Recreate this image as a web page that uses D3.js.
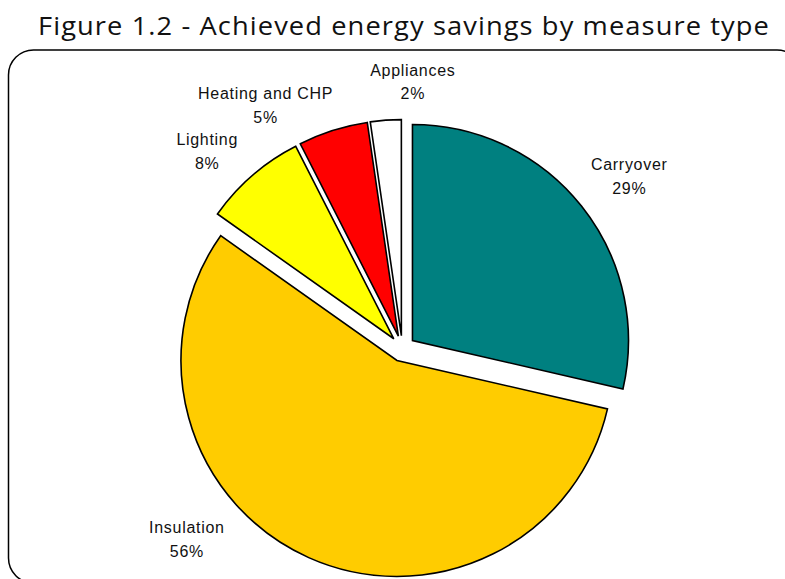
<!DOCTYPE html>
<html>
<head>
<meta charset="utf-8">
<script src="https://cdn.jsdelivr.net/npm/d3@7"></script>
<style>
  html, body { margin: 0; padding: 0; background: #fff; }
  svg { display: block; }
</style>
</head>
<body>
<div id="container"></div>
<script>
// data (shares in %)
const categories = ["Carryover", "Insulation", "Lighting", "Heating and CHP", "Appliances"];
const shares = [28.6, 56.2, 7.7, 5.2, 2.3];
const sliceColors = ["#008080", "#FFCC00", "#FFFF00", "#FF0000", "#FFFFFF"];

const width = 785;
const height = 579;
const cx = 402.3, cy = 348.6;
const radius = 216;
const explode = 13;

// where Excel pushed each label: shift of angle (deg) and label radius
const labelPlace = {
  "Carryover": { da: 1.3, r: 285 },
  "Insulation": { da: 24.3, r: 288 },
  "Lighting": { da: -3.8, r: 277.5 },
  "Heating and CHP": { da: -11.7, r: 279 },
  "Appliances": { da: 6.4, r: 267 }
};

const data = categories.map((c, i) => ({ name: c, value: shares[i], color: sliceColors[i] }));

const svg = d3.select("#container")
  .append("svg")
  .attr("width", width)
  .attr("height", height);

svg.append("text")
  .attr("x", 404)
  .attr("y", 35)
  .attr("text-anchor", "middle")
  .attr("textLength", 732)
  .attr("lengthAdjust", "spacingAndGlyphs")
  .style("font-family", "'Open Sans', sans-serif")
  .style("font-size", "25px")
  .style("letter-spacing", "1px")
  .style("fill", "#111")
  .text("Figure 1.2 - Achieved energy savings by measure type");

svg.append("rect")
  .attr("x", 8.5)
  .attr("y", 50)
  .attr("width", 793.5)
  .attr("height", 533)
  .attr("rx", 25)
  .attr("ry", 25)
  .attr("fill", "none")
  .attr("stroke", "#000")
  .attr("stroke-width", 1.5);

const pie = d3.pie().sort(null).value(d => d.value);
const arcs = pie(data);

const arc = d3.arc().innerRadius(0).outerRadius(radius);

const g = svg.append("g").attr("transform", `translate(${cx},${cy})`);

g.selectAll("path")
  .data(arcs)
  .enter()
  .append("path")
  .attr("d", arc)
  .attr("transform", d => {
    const mid = (d.startAngle + d.endAngle) / 2;
    return `translate(${explode * Math.sin(mid)},${-explode * Math.cos(mid)})`;
  })
  .attr("fill", d => d.data.color)
  .attr("stroke", "#000")
  .attr("stroke-width", 1.6)
  .attr("stroke-linejoin", "miter");

const lbl = g.selectAll("text.lbl")
  .data(arcs)
  .enter()
  .append("text")
  .attr("class", "lbl")
  .attr("text-anchor", "middle")
  .style("font-family", "'Liberation Sans', Arial, sans-serif")
  .style("font-size", "16px")
  .style("letter-spacing", "0.7px")
  .style("fill", "#111")
  .attr("transform", d => {
    const p = labelPlace[d.data.name];
    const a = (d.startAngle + d.endAngle) / 2 + p.da * Math.PI / 180;
    return `translate(${p.r * Math.sin(a)},${-p.r * Math.cos(a)})`;
  });

lbl.append("tspan")
  .attr("x", 0)
  .attr("y", -12 + 5.7)
  .text(d => d.data.name);

lbl.append("tspan")
  .attr("x", 0)
  .attr("y", 12 + 5.7)
  .text(d => Math.round(d.data.value) + "%");
</script>
</body>
</html>
